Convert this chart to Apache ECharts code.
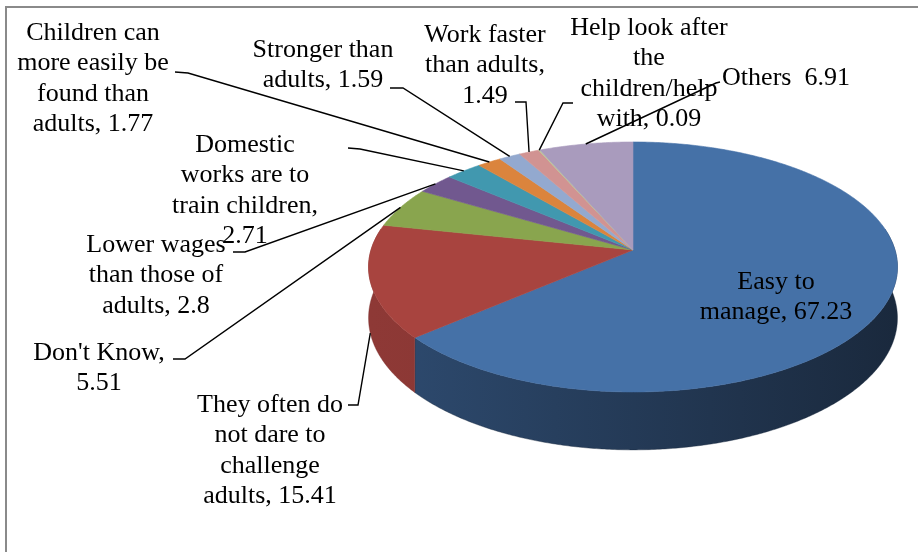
<!DOCTYPE html>
<html>
<head>
<meta charset="utf-8">
<script src="https://cdn.jsdelivr.net/npm/echarts@6/dist/echarts.min.js"></script>
<style>
html,body{margin:0;padding:0;background:#fff;}
#chart{width:918px;height:552px;}
</style>
</head>
<body>
<div id="chart"></div>
<script>
// Reasons for employing children (%)
const categories = [
  'Easy to manage',
  'They often do not dare to challenge adults',
  "Don't Know",
  'Lower wages than those of adults',
  'Domestic works are to train children',
  'Children can more easily be found than adults',
  'Stronger than adults',
  'Work faster than adults',
  'Help look after the children/help with',
  'Others'
];
const values = [67.23, 15.41, 5.51, 2.8, 2.71, 1.77, 1.59, 1.49, 0.09, 6.91];

// label wording split into printed lines; the value is appended to the last line
const labelLines = [
  ['Easy to', 'manage, '],
  ['They often do', 'not dare to', 'challenge', 'adults, '],
  ["Don't Know,", ''],
  ['Lower wages', 'than those of', 'adults, '],
  ['Domestic', 'works are to', 'train children,', ''],
  ['Children can', 'more easily be', 'found than', 'adults, '],
  ['Stronger than', 'adults, '],
  ['Work faster', 'than adults,', ''],
  ['Help look after', 'the', 'children/help', 'with, '],
  ['Others  ']
];

// slice colours (top face) and darker side-wall colours
const topColors = ['#4571A7', '#A8443F', '#89A54E', '#71588F', '#4198AF', '#DB843D', '#93A9CF', '#D19392', '#B9CD96', '#A99BBD'];
const sideColors = [['#2E4B70', '#1A293D'], ['#8E3936', '#7A2E2C'], ['#6E853E', '#5E7235'], ['#5B4773', '#4D3D62'], ['#34798C', '#2C6778'], ['#B06A31', '#965A2A'], ['#7688A6', '#66758F'], ['#A87675', '#8F6463'], ['#95A579', '#808E68'], ['#887D98', '#746A82']];

// label placement: centre x, centre y of first line, leader start and elbow
const labelLayout = [
  { x: 776, y: 282, lead: null },
  { x: 270, y: 405, lead: [[348, 405], [358, 405]] },
  { x: 99,  y: 353, lead: [[173, 359], [185, 359]] },
  { x: 156, y: 245, lead: [[233, 252], [245, 252]] },
  { x: 245, y: 145, lead: [[348, 148], [360, 149]] },
  { x: 93,  y: 33,  lead: [[175, 72], [188, 73]] },
  { x: 323, y: 50,  lead: [[390, 88], [403, 88]] },
  { x: 485, y: 35,  lead: [[515, 102], [526, 102]] },
  { x: 649, y: 28,  lead: [[573, 103], [563, 103]] },
  { x: 786, y: 78,  lead: [[720, 82], [716, 83]] }
];

// 3-D pie geometry (perspective-projected disc)
const CX = 633, CY = 250, RX = 262, RY = 122.7, K = 0.136, H = 50;
const FONT = '26px "Liberation Serif", "Times New Roman", serif';
const LH = 30.5;

function proj(deg, drop) {
  const p = deg * Math.PI / 180;
  const s = Math.sin(p), z = Math.cos(p);
  const d = 1 + K * z;
  return [CX + RX * s / d, CY - RY * z / d + (drop ? H / d : 0)];
}

function arc(a0, a1, drop) {
  const n = Math.max(2, Math.ceil(Math.abs(a1 - a0) / 0.5));
  const out = [];
  for (let s = 0; s <= n; s++) out.push(proj(a0 + (a1 - a0) * s / n, drop));
  return out;
}

function renderItem(params, api) {
  const i = params.dataIndex;
  const total = values.reduce((a, b) => a + b, 0);
  let before = 0;
  for (let j = 0; j < i; j++) before += values[j];
  const v = api.value(0);
  const a0 = before / total * 360;
  const a1 = (before + v) / total * 360;
  const children = [];

  // top face
  const top = [[CX, CY]].concat(arc(a0, a1, false));
  children.push({
    type: 'polygon', z2: 2,
    shape: { points: top },
    style: { fill: topColors[i], stroke: topColors[i], lineWidth: 0.6 }
  });

  // visible side wall (front half of the disc)
  const s0 = Math.max(a0, 80), s1 = Math.min(a1, 280);
  if (s1 > s0) {
    const wall = arc(s0, s1, false).concat(arc(s1, s0, true));
    children.push({
      type: 'polygon', z2: 1,
      shape: { points: wall },
      style: {
        fill: new echarts.graphic.LinearGradient(CX - RX, 0, CX + RX, 0, [
          { offset: 0, color: sideColors[i][0] },
          { offset: 1, color: sideColors[i][1] }
        ], true),
        stroke: sideColors[i][1], lineWidth: 0.4
      }
    });
  }

  // leader line to the slice edge
  const lay = labelLayout[i];
  if (lay.lead) {
    const mid = (a0 + a1) / 2;
    const front = mid > 90 && mid < 270;
    const anchor = proj(mid, front);
    children.push({
      type: 'polyline', z2: 3,
      shape: { points: [lay.lead[0], lay.lead[1], anchor] },
      style: { stroke: '#000', lineWidth: 1.4, fill: null }
    });
  }

  // label text
  const lines = labelLines[i].slice();
  lines[lines.length - 1] = lines[lines.length - 1] + String(v);
  children.push({
    type: 'text', z2: 4,
    style: {
      text: lines.join('\n'),
      x: lay.x, y: lay.y - LH / 2,
      align: 'center', verticalAlign: 'top',
      font: FONT, lineHeight: LH, fill: '#000'
    }
  });

  return { type: 'group', children: children };
}

const chart = echarts.init(document.getElementById('chart'), null, { renderer: 'canvas' });
chart.setOption({
  animation: false,
  backgroundColor: '#fff',
  graphic: [{
    type: 'rect', z: -1,
    shape: { x: 6, y: 7, width: 1000, height: 1000 },
    style: { fill: 'none', stroke: '#8A8A8A', lineWidth: 2 }
  }],
  series: [{
    type: 'custom',
    coordinateSystem: 'none',
    renderItem: renderItem,
    data: values.map((v, i) => ({ name: categories[i], value: [v, i] }))
  }]
});
</script>
</body>
</html>
